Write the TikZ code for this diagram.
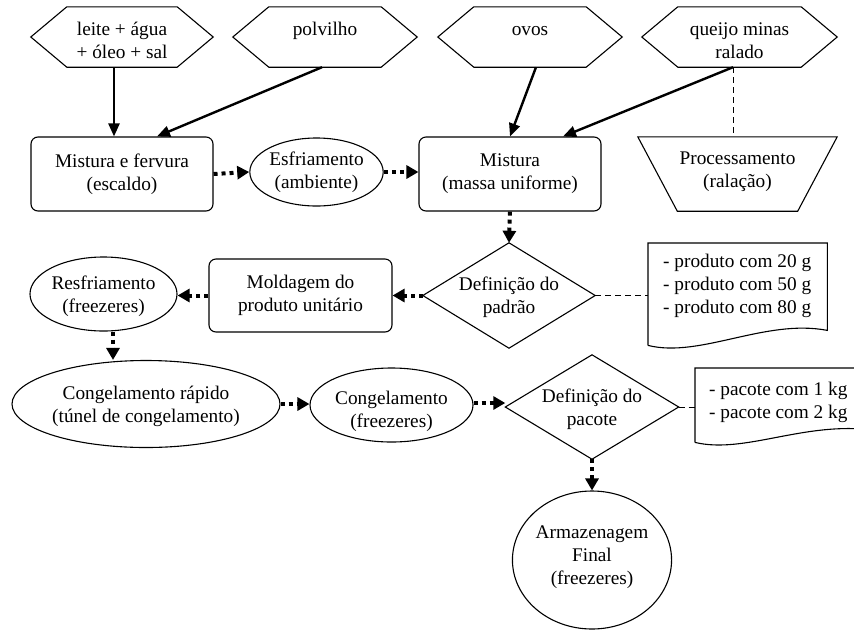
\documentclass[tikz,border=0pt]{standalone}
\usepackage{fontspec}
\setmainfont{Liberation Serif}
\usetikzlibrary{arrows.meta,calc,shapes.geometric}
\newcommand\hexpath[2]{\draw[outline] (#1.west) -- ([xshift=#2]#1.north west) -- ([xshift=-#2]#1.north east) -- (#1.east) -- ([xshift=-#2]#1.south east) -- ([xshift=#2]#1.south west) -- cycle;}
\newcommand\tx[2]{\raisebox{#1}[\height][\depth]{\begin{tabular}{@{}c@{}}#2\end{tabular}}}
\begin{document}
\begin{tikzpicture}[x=1pt,y=-1pt,
  font=\fontsize{19.3}{23}\selectfont,
  every node/.style={inner sep=0pt, align=center},
  outline/.style={line width=1.1pt, line join=miter},
  hexn/.style={minimum height=60pt},
  rbox/.style={draw, outline, rounded corners=7pt, minimum height=74pt},
  ell/.style={draw, outline, ellipse},
  solidarrow/.style={line width=2.4pt, -{Triangle[length=13pt,width=11pt]}},
  dotarrow/.style={line width=4pt, dash pattern=on 4pt off 4pt, -{Triangle[length=12pt,width=13pt]}},
  thindash/.style={line width=0.9pt, dash pattern=on 6pt off 4pt}
]
\useasboundingbox (0,0) rectangle (854,630);

% ingredients (hexagons)
\node[hexn, minimum width=182pt] (h1) at (122,37) {\tx{-5pt}{leite + água\\+ óleo + sal}};
\node[hexn, minimum width=184pt] (h2) at (325,37) {\tx{-5pt}{polvilho\\\phantom{p}}};
\node[hexn, minimum width=184pt] (h3) at (530,37) {\tx{-5pt}{ovos\\\phantom{p}}};
\node[hexn, minimum width=195pt] (h4) at (739.5,37) {\tx{-5pt}{queijo minas\\ralado}};
\hexpath{h1}{36pt}
\hexpath{h2}{36pt}
\hexpath{h3}{36pt}
\hexpath{h4}{36pt}

% row 1
\node[rbox, minimum width=182pt] (b1) at (122,174) {Mistura e fervura\\(escaldo)};
\node[ell, minimum width=133pt, minimum height=68pt] (e1) at (316.5,172) {Esfriamento\\(ambiente)};
\node[rbox, minimum width=182pt] (b2) at (510,174) {Mistura\\(massa uniforme)};
\node[minimum width=199pt, minimum height=74pt] (tr) at (737.5,174) {\tx{3pt}{Processamento\\(ralação)}};
\draw[outline] (tr.north west) -- (tr.north east) -- ([xshift=-39.5pt]tr.south east) -- ([xshift=39.5pt]tr.south west) -- cycle;

% row 2
\node[minimum width=172pt, minimum height=105pt] (d1) at (509,295.5) {\tx{-2pt}{Definição do\\padrão}};
\draw[outline] (d1.north) -- (d1.east) -- (d1.south) -- (d1.west) -- cycle;
\node[minimum width=179pt, minimum height=102pt, anchor=north west] (doc1) at (648,243) {};
\draw[outline] (doc1.south west) -- (doc1.north west) -- (doc1.north east) -- ([yshift=15pt]doc1.south east)
  .. controls ([xshift=-62pt,yshift=27pt]doc1.south east) and ([xshift=52pt,yshift=-13pt]doc1.south west) .. (doc1.south west);
\node[anchor=north west, align=left] (doc1t) at ([xshift=15pt,yshift=-11pt]doc1.north west) {- produto com 20 g\\- produto com 50 g\\- produto com 80 g};
\node[rbox, minimum width=183pt, minimum height=73pt] (b3) at (300.5,295.5) {Moldagem do\\produto unitário};
\node[ell, minimum width=145pt, minimum height=74pt] (e2) at (103.5,294) {\tx{-2pt}{Resfriamento\\(freezeres)}};

% row 3
\node[ell, minimum width=268pt, minimum height=87pt] (e3) at (146,404) {\tx{-2pt}{Congelamento rápido\\(túnel de congelamento)}};
\node[ell, minimum width=163pt, minimum height=74pt] (e4) at (391.5,405) {\tx{-6pt}{Congelamento\\(freezeres)}};
\node[minimum width=173pt, minimum height=104pt] (d2) at (592,407) {\tx{-2pt}{Definição do\\pacote}};
\draw[outline] (d2.north) -- (d2.east) -- (d2.south) -- (d2.west) -- cycle;
\node[minimum width=180pt, minimum height=74pt, anchor=north west] (doc2) at (695,368) {};
\draw[outline] (doc2.south west) -- (doc2.north west) -- (doc2.north east) -- ([yshift=12pt]doc2.south east)
  .. controls ([xshift=-70pt,yshift=22pt]doc2.south east) and ([xshift=50pt,yshift=-12pt]doc2.south west) .. (doc2.south west);
\node[anchor=north west, align=left] (doc2t) at ([xshift=14pt,yshift=-14pt]doc2.north west) {- pacote com 1 kg\\- pacote com 2 kg};

% final storage
\node[ell, minimum width=150pt, minimum height=138pt] (e5) at (592,560) {\tx{3pt}{Armazenagem\\Final\\(freezeres)}};

% solid arrows
\draw[solidarrow] ([xshift=-8pt]h1.south) -- ([xshift=-8pt]b1.north);
\draw[solidarrow] ([xshift=-3pt]h2.south) -- ([xshift=35pt]b1.north);
\draw[solidarrow] ([xshift=6pt]h3.south) -- (b2.north);
\draw[solidarrow] ([xshift=-6.5pt]h4.south) -- ([xshift=53pt]b2.north);
\draw[thindash] ([xshift=-6.5pt]h4.south) -- ([xshift=-6.5pt]h4.south |- tr.north);

% dotted arrows
\draw[dotarrow] (b1.east) -- (e1.west);
\draw[dotarrow] (e1.east) -- (e1.east -| b2.west);
\draw[dotarrow] (b2.south) -- (d1.north);
\draw[dotarrow] (d1.west) -- (b3.east);
\draw[dotarrow] (b3.west) -- (b3.west -| e2.east);
\draw[dotarrow] ([xshift=9.5pt]e2.south) -- ([xshift=9.5pt]e2.south |- e3.north);
\draw[dotarrow] (e3.east) -- (e3.east -| e4.west);
\draw[dotarrow] ([yshift=2pt]e4.east) -- ([yshift=2pt]e4.east -| d2.west);
\draw[dotarrow] (d2.south) -- (e5.north);

% dashed links to notes
\draw[thindash] (d1.east) -- (d1.east -| doc1.west);
\draw[thindash] (d2.east) -- (d2.east -| doc2.west);
\end{tikzpicture}
\end{document}
